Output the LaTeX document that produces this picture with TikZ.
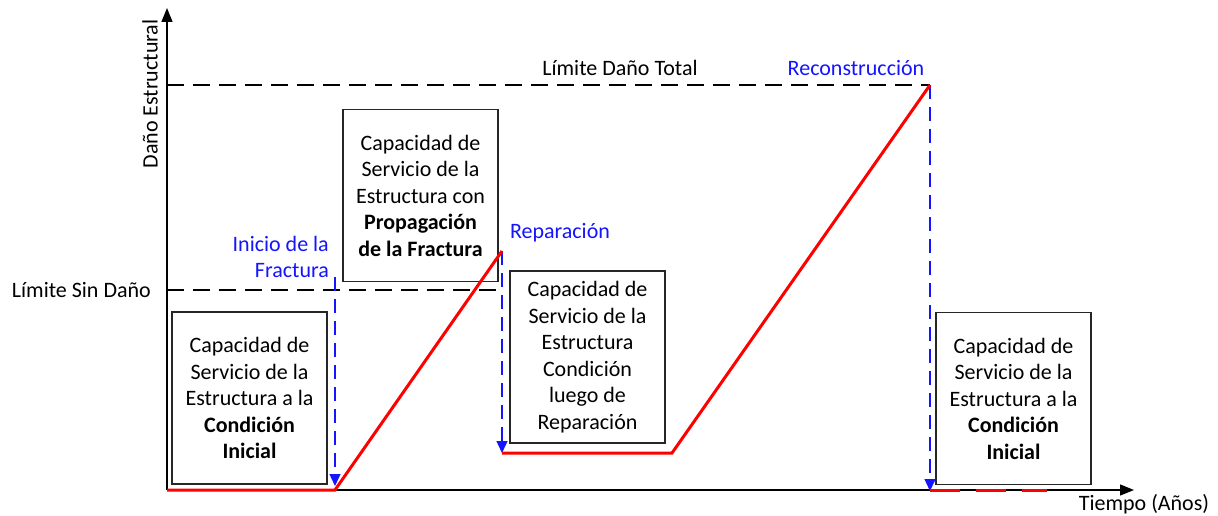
\documentclass[tikz,border=0pt]{standalone}
\usepackage{fontspec}
\setmainfont{Carlito}
\usetikzlibrary{arrows.meta}
\definecolor{lblue}{RGB}{20,20,255}
\definecolor{lred}{RGB}{255,0,0}
\begin{document}
\begin{tikzpicture}[x=1pt,y=-1pt,
  txt/.style={font=\fontsize{22}{26.5}\selectfont, inner sep=0pt},
  capbox/.style={draw=black!85, line width=1.3pt, fill=white, minimum width=155pt, minimum height=172pt, align=center, font=\fontsize{22}{26.5}\selectfont, inner sep=0pt},
  bluetxt/.style={txt, text=lblue},
  axis/.style={line width=1.4pt, -{Triangle[length=14pt,width=11pt]}},
  limit/.style={line width=1.3pt, dash pattern=on 17pt off 9pt},
  marker/.style={draw=lblue, line width=1.4pt, dash pattern=on 14pt off 8pt, -{Triangle[length=12pt,width=11pt]}},
  curve/.style={draw=lred, line width=3pt},
  curvedash/.style={draw=lred, line width=3pt, dash pattern=on 30pt off 16pt},
]
\useasboundingbox (0,0) rectangle (1218,516);
% coordinates
\coordinate (O) at (167,490);
\coordinate (Ytip) at (167,8);
\coordinate (Xtip) at (1134,490);
\coordinate (T0) at (167,85);
\coordinate (T1) at (930,85);
\coordinate (S0) at (167,290);
\coordinate (S1) at (502,290);
\coordinate (P1) at (335,490);
\coordinate (P2) at (502,251);
\coordinate (P3) at (502,453);
\coordinate (P4) at (672,453);
\coordinate (P5) at (930,85);
\coordinate (P6) at (930,490);
\coordinate (P7) at (1047,490);
\coordinate (A1s) at (335,277);
\coordinate (A1e) at (335,486);
\coordinate (A2s) at (502,251);
\coordinate (A2e) at (502,453);
\coordinate (A3s) at (930,85);
\coordinate (A3e) at (930,491);
% boxes
\node[capbox] (b1) at (249.5,398) {Capacidad de\\Servicio de la\\Estructura a la\\\textbf{Condición}\\\textbf{Inicial}};
\node[capbox] (b2) at (420.5,195.5) {Capacidad de\\Servicio de la\\Estructura con\\\textbf{Propagación}\\\textbf{de la Fractura}};
\node[capbox] (b3) at (587.5,357) {Capacidad de\\Servicio de la\\Estructura\\Condición\\luego de\\Reparación};
\node[capbox] (b4) at (1013.5,398.5) {Capacidad de\\Servicio de la\\Estructura a la\\\textbf{Condición}\\\textbf{Inicial}};
% limits
\draw[limit] (T0) -- (T1);
\draw[limit] (S0) -- (S1);
% axes
\draw[axis] (O) -- (Ytip);
\draw[axis] (O) -- (Xtip);
% markers
\draw[marker] (A1s) -- (A1e);
\draw[marker] (A2s) -- (A2e);
\draw[marker] (A3s) -- (A3e);
% curve
\draw[curve] (O) -- (P1) -- (P2);
\draw[curve] (P3) -- (P4) -- (P5);
\draw[curvedash] (P6) -- (P7);
% labels
\node[txt] (lt) at (620,68) {Límite Daño Total};
\node[txt, anchor=east] (ls) at (151,290) {Límite Sin Daño};
\node[txt, rotate=90] (ly) at (150,94) {Daño Estructural};
\node[txt] (lx) at (1144,504) {Tiempo (Años)};
\node[bluetxt, align=right, anchor=east] (li) at (329,257) {Inicio de la\\Fractura};
\node[bluetxt] (lr) at (560,233) {Reparación};
\node[bluetxt] (lc) at (856,68) {Reconstrucción};
\end{tikzpicture}
\end{document}
